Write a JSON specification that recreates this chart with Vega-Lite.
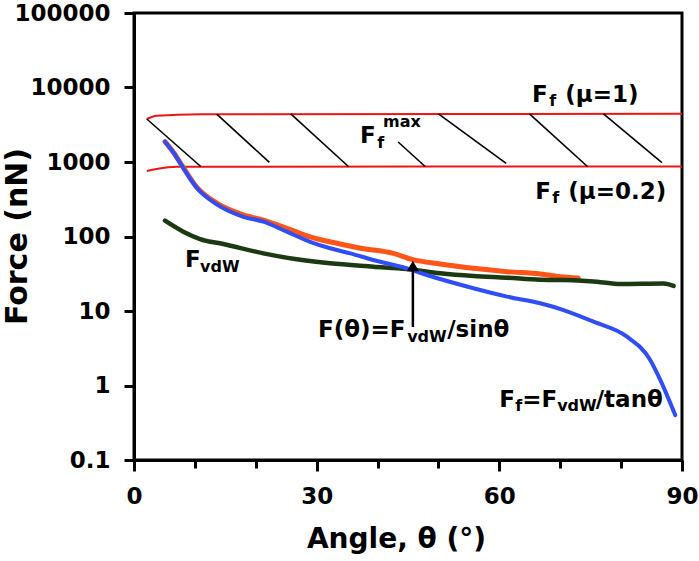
{
  "$schema": "https://vega.github.io/schema/vega-lite/v6.json",
  "width": 548,
  "height": 447,
  "autosize": "none",
  "padding": {"left": 134, "top": 13, "right": 17, "bottom": 101},
  "background": "white",
  "config": {"view": {"stroke": "black", "strokeWidth": 3}, "font": "DejaVu Sans"},
  "datasets": {
    "curves": [
      {"series": "upper", "theta": 2.1, "force": 3780},
      {"series": "upper", "theta": 3.7, "force": 4190},
      {"series": "upper", "theta": 11, "force": 4380},
      {"series": "upper", "theta": 90, "force": 4430},
      {"series": "lower", "theta": 2.1, "force": 757},
      {"series": "lower", "theta": 3.7, "force": 805},
      {"series": "lower", "theta": 7.0, "force": 865},
      {"series": "lower", "theta": 90, "force": 870},
      {"series": "blue", "theta": 5.09, "force": 1873},
      {"series": "blue", "theta": 6.5, "force": 1330},
      {"series": "blue", "theta": 8.1, "force": 830},
      {"series": "blue", "theta": 10.3, "force": 450},
      {"series": "blue", "theta": 13.59, "force": 270},
      {"series": "blue", "theta": 17.96, "force": 184},
      {"series": "blue", "theta": 21.25, "force": 158},
      {"series": "blue", "theta": 25.09, "force": 116},
      {"series": "blue", "theta": 28.92, "force": 85},
      {"series": "blue", "theta": 32.2, "force": 69.5},
      {"series": "blue", "theta": 35.5, "force": 59.4},
      {"series": "blue", "theta": 39.32, "force": 48.4},
      {"series": "blue", "theta": 44.81, "force": 37.4},
      {"series": "blue", "theta": 48.09, "force": 30.4},
      {"series": "blue", "theta": 55.75, "force": 20.2},
      {"series": "blue", "theta": 61.24, "force": 15.6},
      {"series": "blue", "theta": 66.71, "force": 12.7},
      {"series": "blue", "theta": 70.54, "force": 10.3},
      {"series": "blue", "theta": 75.47, "force": 7.18},
      {"series": "blue", "theta": 80.96, "force": 4.52},
      {"series": "blue", "theta": 84.78, "force": 2.2},
      {"series": "blue", "theta": 86.43, "force": 1.19},
      {"series": "blue", "theta": 88.89, "force": 0.4},
      {"series": "orange", "theta": 5.09, "force": 1880},
      {"series": "orange", "theta": 6.5, "force": 1340},
      {"series": "orange", "theta": 8.1, "force": 840},
      {"series": "orange", "theta": 10.3, "force": 460},
      {"series": "orange", "theta": 13.59, "force": 280},
      {"series": "orange", "theta": 17.96, "force": 195},
      {"series": "orange", "theta": 21.25, "force": 166},
      {"series": "orange", "theta": 25.09, "force": 129},
      {"series": "orange", "theta": 28.92, "force": 99},
      {"series": "orange", "theta": 33.85, "force": 79.3},
      {"series": "orange", "theta": 37.0, "force": 70},
      {"series": "orange", "theta": 42.6, "force": 59.4},
      {"series": "orange", "theta": 45.63, "force": 49.4},
      {"series": "orange", "theta": 50.28, "force": 42.7},
      {"series": "orange", "theta": 55.75, "force": 37.4},
      {"series": "orange", "theta": 61.24, "force": 33.7},
      {"series": "orange", "theta": 66.71, "force": 31.4},
      {"series": "orange", "theta": 70.0, "force": 28.8},
      {"series": "orange", "theta": 72.95, "force": 27.7},
      {"series": "green", "theta": 5.09, "force": 163},
      {"series": "green", "theta": 8.1, "force": 116},
      {"series": "green", "theta": 10.84, "force": 92.5},
      {"series": "green", "theta": 14.67, "force": 79.3},
      {"series": "green", "theta": 21.25, "force": 59.4},
      {"series": "green", "theta": 26.73, "force": 49.4},
      {"series": "green", "theta": 32.2, "force": 43.6},
      {"series": "green", "theta": 39.32, "force": 39.4},
      {"series": "green", "theta": 44.81, "force": 36.6},
      {"series": "green", "theta": 50.28, "force": 32.1},
      {"series": "green", "theta": 55.75, "force": 29.5},
      {"series": "green", "theta": 61.24, "force": 28.0},
      {"series": "green", "theta": 66.71, "force": 26.3},
      {"series": "green", "theta": 70.54, "force": 26.0},
      {"series": "green", "theta": 76.03, "force": 24.7},
      {"series": "green", "theta": 79.86, "force": 23.0},
      {"series": "green", "theta": 86.97, "force": 23.4},
      {"series": "green", "theta": 88.62, "force": 21.7}
    ],
    "hatch": [
      {"theta": 2.1, "force": 3780, "theta2": 10.96, "force2": 870},
      {"theta": 13.59, "force": 4400, "theta2": 22.23, "force2": 990},
      {"theta": 25.75, "force": 4420, "theta2": 35.21, "force2": 870},
      {"theta": 43.38, "force": 1854, "theta2": 47.82, "force2": 870},
      {"theta": 50.0, "force": 4430, "theta2": 61.12, "force2": 961},
      {"theta": 64.95, "force": 4430, "theta2": 74.47, "force2": 870},
      {"theta": 77.11, "force": 4430, "theta2": 86.7, "force2": 978}
    ],
    "arrow": [
      {"theta": 45.8, "force": 6.1, "force2": 40.2}
    ],
    "labels": [
      {"role": "main", "label": "F", "theta": 65.35, "force": 6442},
      {"role": "main", "label": "(μ=1)", "theta": 70.82, "force": 6442},
      {"role": "sub", "label": "f", "theta": 68.19, "force": 5728},
      {"role": "main", "label": "F", "theta": 65.89, "force": 318},
      {"role": "main", "label": "(μ=0.2)", "theta": 71.31, "force": 318},
      {"role": "sub", "label": "f", "theta": 68.68, "force": 282},
      {"role": "main", "label": "F", "theta": 37.13, "force": 1782},
      {"role": "sub", "label": "f", "theta": 39.93, "force": 1542},
      {"role": "sub", "label": "max", "theta": 40.91, "force": 2951},
      {"role": "main", "label": "F", "theta": 8.38, "force": 39.4},
      {"role": "sub", "label": "vdW", "theta": 10.84, "force": 33.7},
      {"role": "main", "label": "F(θ)=F", "theta": 30.23, "force": 4.52},
      {"role": "sub", "label": "vdW", "theta": 44.86, "force": 3.87},
      {"role": "main", "label": "/sinθ", "theta": 51.43, "force": 4.52},
      {"role": "main", "label": "F", "theta": 59.97, "force": 0.519},
      {"role": "sub", "label": "f", "theta": 62.6, "force": 0.455},
      {"role": "main", "label": "=F", "theta": 63.75, "force": 0.519},
      {"role": "sub", "label": "vdW", "theta": 69.5, "force": 0.455},
      {"role": "main", "label": "/tanθ", "theta": 75.83, "force": 0.519}
    ]
  },
  "encoding": {
    "x": {
      "field": "theta",
      "type": "quantitative",
      "scale": {"type": "linear", "domain": [0, 90], "nice": false, "zero": false},
      "axis": {
        "title": "Angle, θ (°)",
        "values": [0, 10, 20, 30, 40, 50, 60, 70, 80, 90],
        "labelExpr": "datum.value % 30 === 0 ? datum.label : ''",
        "grid": false,
        "tickSize": {"condition": {"test": "datum.value % 30 === 0", "value": 11}, "value": 8},
        "tickWidth": 3,
        "tickColor": "black",
        "domainColor": "black",
        "domainWidth": 3,
        "labelFont": "DejaVu Sans",
        "labelFontWeight": "bold",
        "labelFontSize": 23,
        "labelColor": "black",
        "labelPadding": 14,
        "labelFlush": false,
        "labelOverlap": false,
        "titleFont": "DejaVu Sans",
        "titleFontWeight": "bold",
        "titleFontSize": 28,
        "titleColor": "black",
        "titleX": 262,
        "titleY": 87,
        "titleAlign": "center",
        "titleBaseline": "alphabetic"
      }
    },
    "y": {
      "field": "force",
      "type": "quantitative",
      "scale": {"type": "log", "domain": [0.1, 100000], "nice": false},
      "axis": {
        "title": "Force (nN)",
        "values": [0.1, 1, 10, 100, 1000, 10000, 100000],
        "labelExpr": "'' + datum.value",
        "grid": false,
        "tickSize": 10,
        "tickWidth": 3,
        "tickColor": "black",
        "domainColor": "black",
        "domainWidth": 3,
        "labelFont": "DejaVu Sans",
        "labelFontWeight": "bold",
        "labelFontSize": 23,
        "labelColor": "black",
        "labelPadding": 14,
        "labelFlush": false,
        "labelOverlap": false,
        "titleFont": "DejaVu Sans",
        "titleFontWeight": "bold",
        "titleFontSize": 30,
        "titleColor": "black",
        "titleX": -108,
        "titleY": 223,
        "titleAlign": "center",
        "titleBaseline": "alphabetic"
      }
    }
  },
  "layer": [
    {
      "data": {"name": "curves"},
      "transform": [{"filter": "datum.series === 'upper' || datum.series === 'lower'"}],
      "mark": {"type": "line", "color": "#ee1515", "strokeWidth": 2, "interpolate": "monotone"},
      "encoding": {"detail": {"field": "series"}}
    },
    {
      "data": {"name": "hatch"},
      "mark": {"type": "rule", "color": "black", "strokeWidth": 1.6},
      "encoding": {"x2": {"field": "theta2"}, "y2": {"field": "force2"}}
    },
    {
      "data": {"name": "curves"},
      "transform": [{"filter": "datum.series === 'orange'"}],
      "mark": {"type": "line", "color": "#ff5518", "strokeWidth": 5, "strokeCap": "round", "interpolate": "monotone"},
      "encoding": {}
    },
    {
      "data": {"name": "curves"},
      "transform": [{"filter": "datum.series === 'green'"}],
      "mark": {"type": "line", "color": "#1c3a12", "strokeWidth": 4.5, "strokeCap": "round", "interpolate": "monotone"},
      "encoding": {}
    },
    {
      "data": {"name": "curves"},
      "transform": [{"filter": "datum.series === 'blue'"}],
      "mark": {"type": "line", "color": "#2f4ef5", "strokeWidth": 4, "strokeCap": "round", "interpolate": "monotone"},
      "encoding": {}
    },
    {
      "data": {"name": "arrow"},
      "mark": {"type": "rule", "color": "black", "strokeWidth": 2.5},
      "encoding": {"y2": {"field": "force2"}}
    },
    {
      "data": {"name": "arrow"},
      "mark": {"type": "point", "shape": "triangle-up", "filled": true, "color": "black", "size": 150, "opacity": 1},
      "encoding": {"y": {"field": "force2", "type": "quantitative"}}
    },
    {
      "data": {"name": "labels"},
      "transform": [{"filter": "datum.role === 'main'"}],
      "mark": {"type": "text", "align": "left", "baseline": "alphabetic", "font": "DejaVu Sans", "fontWeight": "bold", "fontSize": 23, "color": "black"},
      "encoding": {"text": {"field": "label"}}
    },
    {
      "data": {"name": "labels"},
      "transform": [{"filter": "datum.role === 'sub'"}],
      "mark": {"type": "text", "align": "left", "baseline": "alphabetic", "font": "DejaVu Sans", "fontWeight": "bold", "fontSize": 16, "color": "black"},
      "encoding": {"text": {"field": "label"}}
    }
  ]
}
